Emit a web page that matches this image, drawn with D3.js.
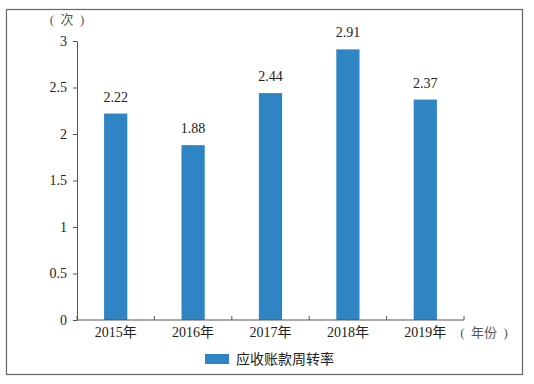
<!DOCTYPE html>
<html>
<head>
<meta charset="utf-8">
<script src="https://cdn.jsdelivr.net/npm/d3@7"></script>
<style>
  body { margin: 0; background: #fff; }
  text { font-family: "Liberation Serif", "Noto Sans CJK SC", serif; fill: #222; }
</style>
</head>
<body>
<svg id="chart"></svg>
<script>
// chart data
const years = ['2015年', '2016年', '2017年', '2018年', '2019年'];
const turnover = [2.22, 1.88, 2.44, 2.91, 2.37];
const yTicks = [0, 0.5, 1, 1.5, 2, 2.5, 3];
const seriesName = '应收账款周转率';

const width = 534, height = 384;
const margin = {top: 41, right: 70, bottom: 64, left: 77};

const svg = d3.select('#chart')
    .attr('width', width)
    .attr('height', height);

// outer frame
svg.append('rect')
    .attr('x', 6.5).attr('y', 9.5)
    .attr('width', 516).attr('height', 365)
    .attr('fill', 'none')
    .attr('stroke', '#666')
    .attr('stroke-width', 1.2);

const innerW = 464 - margin.left;
const innerH = 320 - margin.top;

const chart = svg.append('g')
    .attr('transform', `translate(${margin.left},${margin.top})`);

const xScale = d3.scaleBand()
    .domain(years)
    .range([0, innerW])
    .paddingInner(0.7)
    .paddingOuter(0.35);

const yScale = d3.scaleLinear()
    .domain([0, 3])
    .range([innerH, 0]);

// bars
chart.selectAll('.bar')
    .data(turnover)
  .join('rect')
    .attr('class', 'bar')
    .attr('x', (d, i) => xScale(years[i]))
    .attr('width', xScale.bandwidth())
    .attr('y', d => yScale(d))
    .attr('height', d => innerH - yScale(d))
    .attr('fill', '#2f85c3');

// value labels
chart.selectAll('.val')
    .data(turnover)
  .join('text')
    .attr('class', 'val')
    .attr('x', (d, i) => xScale(years[i]) + xScale.bandwidth() / 2)
    .attr('y', d => yScale(d) - 12)
    .attr('text-anchor', 'middle')
    .style('font-size', '14px')
    .text(d => d.toFixed(2));

// y axis
const yAxis = d3.axisLeft(yScale)
    .tickValues(yTicks)
    .tickFormat(d => d)
    .tickSize(4)
    .tickSizeOuter(0)
    .tickPadding(6);

const yAxisG = chart.append('g').call(yAxis);
yAxisG.select('.domain').attr('stroke', '#555');
yAxisG.selectAll('line').attr('stroke', '#555');
yAxisG.selectAll('text').style('font-size', '14px').style('fill', '#222');

// x axis: boundary ticks pointing up
const xAxisG = chart.append('g')
    .attr('transform', `translate(0,${innerH})`);
xAxisG.append('line')
    .attr('x1', 0).attr('x2', innerW)
    .attr('stroke', '#555');
const step = xScale.step();
xAxisG.selectAll('.xt')
    .data(d3.range(years.length + 1))
  .join('line')
    .attr('class', 'xt')
    .attr('x1', d => d * step).attr('x2', d => d * step)
    .attr('y1', 0).attr('y2', -4)
    .attr('stroke', '#555');
xAxisG.selectAll('.xl')
    .data(years)
  .join('text')
    .attr('class', 'xl')
    .attr('x', d => xScale(d) + xScale.bandwidth() / 2)
    .attr('y', 17)
    .attr('text-anchor', 'middle')
    .style('font-size', '14px')
    .text(d => d);

// unit labels
svg.append('text')
    .attr('x', 67).attr('y', 24)
    .attr('text-anchor', 'middle')
    .attr('xml:space', 'preserve')
    .style('white-space', 'pre')
    .style('font-size', '13px')
    .style('fill', '#555')
    .text('(  次  )');

svg.append('text')
    .attr('x', 484).attr('y', 337)
    .attr('text-anchor', 'middle')
    .style('white-space', 'pre')
    .style('font-size', '13px')
    .style('fill', '#555')
    .text('(  年份  )');

// legend
const legend = svg.append('g').attr('transform', 'translate(205,354)');
legend.append('rect')
    .attr('width', 24).attr('height', 10)
    .attr('fill', '#2f85c3');
legend.append('text')
    .attr('x', 31).attr('y', 10)
    .style('font-size', '14px')
    .text(seriesName);
</script>
</body>
</html>
